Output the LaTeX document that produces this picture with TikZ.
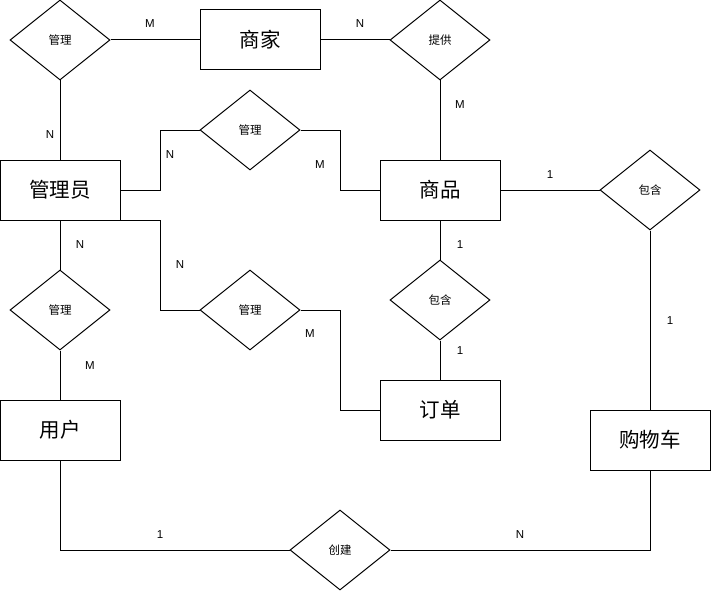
\documentclass[tikz,border=0pt]{standalone}
\usepackage{fontspec}
\setmainfont{Liberation Sans}
\newfontfamily\cjk{Noto Sans CJK SC}
\usetikzlibrary{shapes.geometric}
\tikzset{
  entity/.style={draw, line width=1pt, minimum width=120pt, minimum height=60pt, inner sep=0pt, font=\cjk\fontsize{20.5}{21}\selectfont},
  rel/.style={draw, diamond, line width=1pt, minimum width=100pt, minimum height=80pt, inner sep=0pt, font=\cjk\fontsize{11.5}{12}\selectfont},
  card/.style={inner sep=0pt, font=\fontsize{11.5}{12}\selectfont},
  conn/.style={line width=1pt}
}
\begin{document}
\begin{tikzpicture}[x=1pt, y=-1pt]
\useasboundingbox (0,0) rectangle (711,591);
% entities
\node[entity] (sj)  at (260,40)  {商家};
\node[entity] (gly) at (60,190)  {管理员};
\node[entity] (sp)  at (440,190) {商品};
\node[entity] (dd)  at (440,410) {订单};
\node[entity] (yh)  at (60,430)  {用户};
\node[entity] (gwc) at (650,440) {购物车};
% relationships
\node[rel] (r1) at (60,40)   {管理};
\node[rel] (r2) at (440,40)  {提供};
\node[rel] (r3) at (250,130) {管理};
\node[rel] (r4) at (650,190) {包含};
\node[rel] (r5) at (60,310)  {管理};
\node[rel] (r6) at (250,310) {管理};
\node[rel] (r7) at (440,300) {包含};
\node[rel] (r8) at (340,550) {创建};
% connectors
\draw[conn] (r1.east) -- (sj.west);
\draw[conn] (sj.east) -- (r2.west);
\draw[conn] (r1.south) -- (gly.north);
\draw[conn] (r2.south) -- (sp.north);
\draw[conn] (gly.east) -- ++(40,0) |- (r3.west);
\draw[conn] (r3.east) -- ++(40,0) |- (sp.west);
\draw[conn] (sp.east) -- (r4.west);
\draw[conn] (gly.south) -- (r5.north);
\draw[conn] (r5.south) -- (yh.north);
\draw[conn] (gly.south east) -- ++(40,0) |- (r6.west);
\draw[conn] (r6.east) -- ++(40,0) |- (dd.west);
\draw[conn] (sp.south) -- (r7.north);
\draw[conn] (r7.south) -- (dd.north);
\draw[conn] (r4.south) -- (gwc.north);
\draw[conn] (yh.south) |- (r8.west);
\draw[conn] (r8.east) -| (gwc.south);
% cardinalities
\node[card] (c1)  at (150,24)  {M};
\node[card] (c2)  at (360,24)  {N};
\node[card] (c3)  at (50,135)  {N};
\node[card] (c4)  at (460,105) {M};
\node[card] (c5)  at (170,155) {N};
\node[card] (c6)  at (320,165) {M};
\node[card] (c7)  at (550,175) {1};
\node[card] (c8)  at (80,245)  {N};
\node[card] (c9)  at (180,265) {N};
\node[card] (c10) at (460,245) {1};
\node[card] (c11) at (310,334) {M};
\node[card] (c12) at (460,351) {1};
\node[card] (c13) at (90,366)  {M};
\node[card] (c14) at (670,321) {1};
\node[card] (c15) at (160,535) {1};
\node[card] (c16) at (520,535) {N};
\end{tikzpicture}
\end{document}
